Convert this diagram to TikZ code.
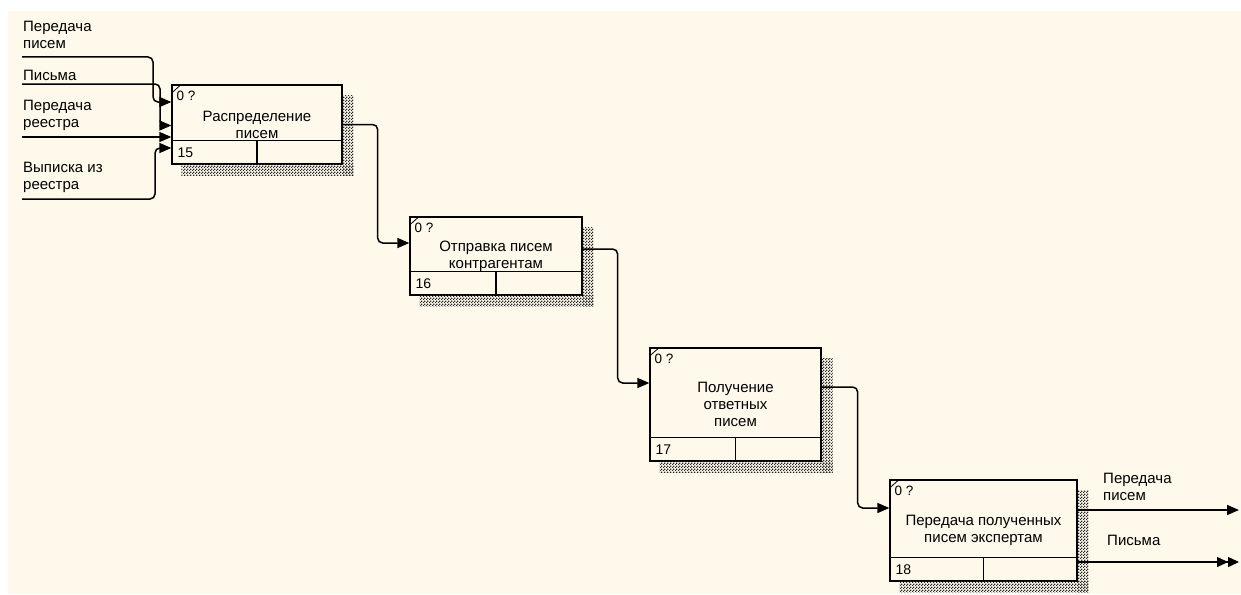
\documentclass[tikz,border=0pt]{standalone}
\usepackage{fontspec}
\setmainfont{Liberation Sans}
\usetikzlibrary{arrows.meta,calc,patterns.meta}
\definecolor{fon}{HTML}{FFF9EC}
\tikzdeclarepattern{name=setka,type=uncolored,bounding box={(0,0) and (3pt,3pt)},tile size={(3pt,3pt)},
  code={\fill (0,0) rectangle (1.5pt,1.5pt); \fill (1.5pt,1.5pt) rectangle (3pt,3pt);}}
\tikzset{
  blok/.style={draw,fill=fon,line width=1.3pt,align=center,font=\fontsize{15}{17}\selectfont,inner sep=0pt},
  ten/.style={pattern=setka,pattern color=black!85},
  strelka/.style={-{Triangle[length=12pt,width=10pt]},line width=1.5pt,rounded corners=5pt},
  strelka2/.style={strelka,-{Triangle[length=11pt,width=10pt]Triangle[length=11pt,width=10pt]}},
  metka/.style={font=\fontsize{15}{17}\selectfont,align=left,inner sep=0pt,anchor=north west},
  nomer/.style={font=\fontsize{14}{16}\selectfont,inner sep=0pt},
}
% shadow, dividers, corner tick and numbers of one IDEF0 block
\newcommand{\ramka}[2]{%
  \fill[ten] ($(#1.north east)+(0,11)$) rectangle ($(#1.south east)+(11,11)$);
  \fill[ten] ($(#1.south west)+(10,0)$) rectangle ($(#1.south east)+(11,11)$);
  \draw[line width=1.3pt] ($(#1.south west)+(0,-24)$) -- ($(#1.south east)+(0,-24)$);
  \draw[line width=1.3pt] ($(#1.south)+(0,-24)$) -- (#1.south);
  \draw[line width=0.8pt] ($(#1.north west)+(1,8)$) -- ($(#1.north west)+(10,0)$);
  \node[nomer,anchor=north west,font=\fontsize{13.5}{15}\selectfont] (#1z) at ($(#1.north west)+(5,7)$) {0 ?};
  \node[nomer,anchor=south west] (#1n) at ($(#1.south west)+(6,-7)$) {#2};
}
\begin{document}
\begin{tikzpicture}[x=1pt,y=-1pt]
  \useasboundingbox (0,0) rectangle (1241,594);
  \fill[white] (0,0) rectangle (1241,594);
  \fill[fon] (8,11) rectangle (1241,594);

  % blocks
  \node[blok,minimum width=170pt,minimum height=79pt] (b15) at (257,124.5) {Распределение\\писем};
  \node[blok,minimum width=172pt,minimum height=78pt] (b16) at (496,256) {Отправка писем\\контрагентам};
  \node[blok,minimum width=171pt,minimum height=113pt] (b17) at (735.5,404.5) {Получение\\ответных\\писем};
  \node[blok,minimum width=187pt,minimum height=101pt] (b18) at (983.5,530.5) {Передача полученных\\писем экспертам};
  \ramka{b15}{15}
  \ramka{b16}{16}
  \ramka{b17}{17}
  \ramka{b18}{18}

  % inputs
  \coordinate (vh1) at (22,57);
  \coordinate (vh2) at (22,84);
  \coordinate (vh3) at (22,137);
  \coordinate (vh4) at (22,199);
  \node[metka] (lvh1) at (23,21) {Передача\\писем};
  \node[metka] (lvh2) at (23,70) {Письма};
  \node[metka] (lvh3) at (23,100) {Передача\\реестра};
  \node[metka] (lvh4) at (23,162) {Выписка из\\реестра};
  \draw[strelka] (vh1) -- ++(131,0) |- ($(b15.west)+(0,-22.5)$);
  \draw[strelka] (vh2) -- ++(138,0) |- ($(b15.west)+(0,1)$);
  \draw[strelka] (vh3) -- ($(b15.west)+(0,12.5)$);
  \draw[strelka] (vh4) -- ++(133,0) |- ($(b15.west)+(0,23.5)$);

  % links between blocks
  \draw[strelka] (b15.east) -- ++(35,0) |- ($(b16.west)+(0,-13)$);
  \draw[strelka] ($(b16.east)+(0,-7)$) -- ++(35,0) |- ($(b17.west)+(0,-21.5)$);
  \draw[strelka] ($(b17.east)+(0,-17.5)$) -- ++(36,0) |- ($(b18.west)+(0,-22.5)$);

  % outputs
  \coordinate (vyh1) at (1239,510);
  \coordinate (vyh2) at (1239,562);
  \node[metka] (lvyh1) at (1103,473) {Передача\\писем};
  \node[metka] (lvyh2) at (1107,535) {Письма};
  \draw[strelka] ($(b18.east)+(0,-20.5)$) -- (vyh1);
  \draw[strelka2] ($(b18.east)+(0,31.5)$) -- (vyh2);
\end{tikzpicture}
\end{document}
